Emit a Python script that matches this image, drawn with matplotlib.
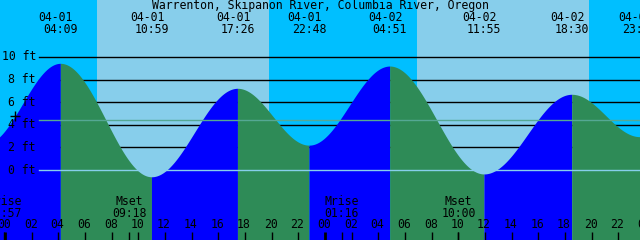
import numpy as np
import matplotlib
matplotlib.use("Agg")
import matplotlib.pyplot as plt
from matplotlib.transforms import blended_transform_factory

# ---- data (hours from 04-01 00:00) ----
title = "Warrenton, Skipanon River, Columbia River, Oregon"
ext_hours = [-1.5, 4.15, 10.983, 17.433, 22.8, 28.85, 35.917, 42.5, 47.6, 53.5]
ext_levels = [2.3, 9.44, -0.6, 7.23, 2.2, 9.2, -0.35, 6.7, 2.95, 9.0]
ext_dates = ["03-31", "04-01", "04-01", "04-01", "04-01", "04-02", "04-02", "04-02", "04-02", "04-03"]
ext_times = ["22:30", "04:09", "10:59", "17:26", "22:48", "04:51", "11:55", "18:30", "23:36", "05:30"]

sunrise_hours = [6.883, 30.883]
sunset_hours = [19.8, 43.8]

moon_hours = [-0.05, 9.3, 25.267, 34.0]
moon_names = ["Mrise", "Mset", "Mrise", "Mset"]
moon_times = ["23:57", "09:18", "01:16", "10:00"]

level_lines = [0, 2, 4, 6, 8, 10]
msl_level = 4.4
now_hour, now_level = 0.75, 4.8

hour_ticks = list(range(0, 50, 2))

# ---- layout ----
W, H = 640, 240
xl, xr = -0.375, 47.625
yb, yt = (170 - 240) / 11.3, 170 / 11.3

fig = plt.figure(figsize=(W / 100, H / 100), dpi=100)
ax = fig.add_axes([0, 0, 1, 1])
ax.set_xlim(xl, xr)
ax.set_ylim(yb, yt)
ax.axis("off")

night, day = "#00BFFF", "#87CEEB"
flood, ebb = "#0000FF", "#2E8B57"
FONT = dict(family="DejaVu Sans Mono", fontsize=8.3, color="black")

# background day/night
ax.axvspan(xl, xr, color=night, lw=0, zorder=0)
for sr, ss in zip(sunrise_hours, sunset_hours):
    ax.axvspan(sr, ss, color=day, lw=0, zorder=0.5)

# level lines (behind fill)
for lv in level_lines:
    if lv != 0:
        ax.axhline(lv, xmin=39 / W, xmax=1, color="black", lw=1, zorder=1)

# tide curve (cosine interpolation between extremes)
for i in range(len(ext_hours) - 1):
    t0, t1 = ext_hours[i], ext_hours[i + 1]
    h0, h1 = ext_levels[i], ext_levels[i + 1]
    t = np.linspace(t0, t1, 300)
    f = (t - t0) / (t1 - t0)
    lvl = h0 + (h1 - h0) * (1 - np.cos(np.pi * f)) / 2
    col = flood if h1 > h0 else ebb
    ax.fill_between(t, lvl, yb, color=col, lw=0, antialiased=False, zorder=2)

# datum and MSL lines on top
ax.axhline(0, xmin=39 / W, xmax=1, color="#87CEEB", lw=1, zorder=3)
ax.axhline(msl_level, xmin=39 / W, xmax=1, color="#55A894", lw=1, zorder=3)

# current marker
ax.plot([now_hour], [now_level], marker="+", color="black", ms=7, mew=1, zorder=5)

# y labels
ty = blended_transform_factory(ax.transAxes, ax.transData)
for lv in level_lines:
    ax.text(36 / W, lv, f"{lv} ft", ha="right", va="center", transform=ty, zorder=6, **FONT)

tx = ax.get_xaxis_transform()
# title
ax.text(0.5, 1 - 6 / H, title, ha="center", va="center", transform=ax.transAxes, zorder=6, **FONT)

# extreme labels (only those inside the plotted window)
for hh, d, tm in zip(ext_hours, ext_dates, ext_times):
    if xl <= hh <= xr:
        ax.text(hh - 4.5 / 13.333, 1 - 17.7 / H, d, ha="center", va="center", transform=tx, zorder=6, **FONT)
        ax.text(hh, 1 - 29.3 / H, tm, ha="center", va="center", transform=tx, zorder=6, **FONT)

# hour ticks and labels
for hh in hour_ticks:
    thick = hh % 24 == 0
    ax.vlines(hh, 0, 8 / H, transform=tx, color="black", lw=2 if thick else 1, zorder=6)
    ax.text(hh - 1 / 13.333, 1 - 225 / H, f"{hh % 24:02d}", ha="center", va="center",
            transform=tx, zorder=6, **FONT)

# moon events
for hh, nm, tm in zip(moon_hours, moon_names, moon_times):
    ax.vlines(hh, 0, 8 / H, transform=tx, color="black", lw=1, zorder=6)
    ax.text(hh, 1 - 201.7 / H, nm, ha="center", va="center", transform=tx, zorder=6, **FONT)
    ax.text(hh, 1 - 213.3 / H, tm, ha="center", va="center", transform=tx, zorder=6, **FONT)

fig.savefig("out.png", dpi=100)
